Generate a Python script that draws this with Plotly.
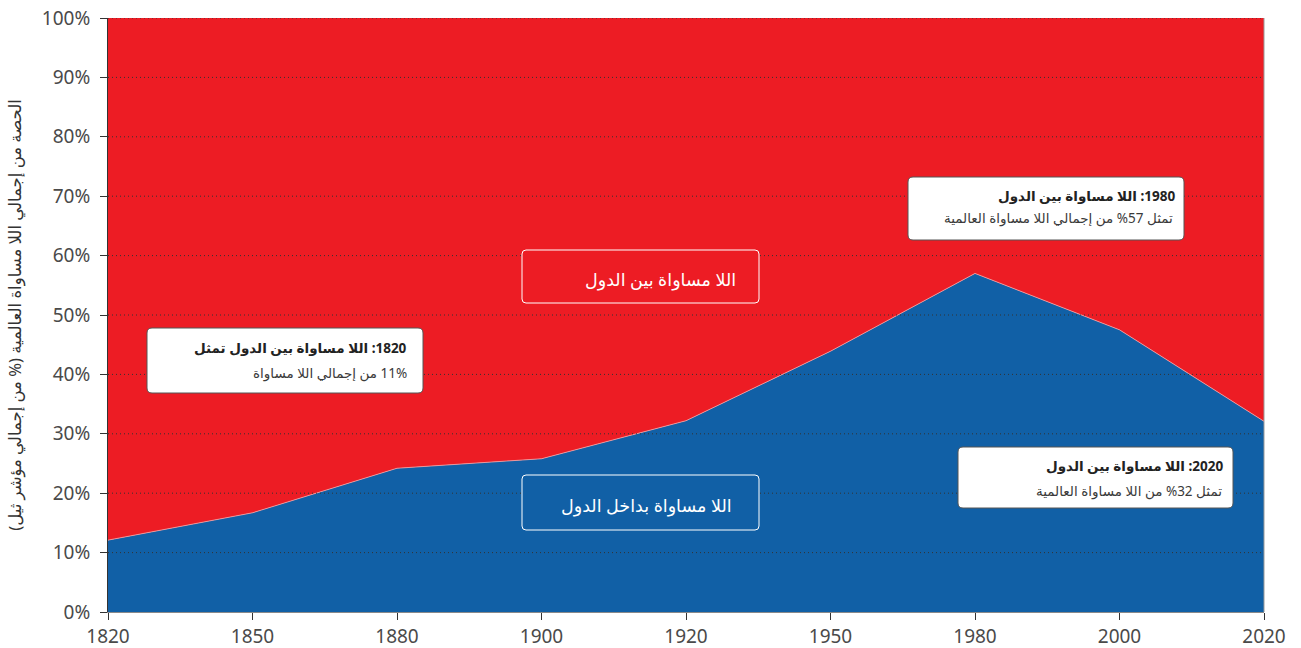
import plotly.graph_objects as go

# ---------------------------
# DATA
# ---------------------------

years = ["1820", "1850", "1880", "1900", "1920", "1950", "1980", "2000", "2020"]
within_share = [12.1, 16.7, 24.2, 25.8, 32.2, 43.9, 57.0, 47.5, 32.1]
between_share = [87.9, 83.3, 75.8, 74.2, 67.8, 56.1, 43.0, 52.5, 67.9]
y_ticks = [0, 10, 20, 30, 40, 50, 60, 70, 80, 90, 100]
y_labels = [f"{v}%" for v in y_ticks]

RED = "#ED1C24"
BLUE = "#1160A6"
FONT = "Noto Sans, DejaVu Sans, sans-serif"

RLE, PDF = "\u202b", "\u202c"


def rtl(s):
    return RLE + s + PDF


# plot area in pixels (used only to place boxes)
L, R, T, B = 108, 1264, 18, 612


def px(x):
    return (x - L) / (R - L)


def py(y):
    return (B - y) / (B - T)


def rounded_box(x0, y0, x1, y1, r=5):
    # x/y in pixels, returns an svg path in paper coords
    rx = r / (R - L)
    ry = r / (B - T)
    a, b, c, d = px(x0), py(y1), px(x1), py(y0)
    return (
        f"M {a + rx} {b} L {c - rx} {b} Q {c} {b} {c} {b + ry} "
        f"L {c} {d - ry} Q {c} {d} {c - rx} {d} "
        f"L {a + rx} {d} Q {a} {d} {a} {d - ry} "
        f"L {a} {b + ry} Q {a} {b} {a + rx} {b} Z"
    )


fig = go.Figure()

fig.add_trace(
    go.Scatter(
        x=years,
        y=within_share,
        stackgroup="one",
        mode="lines",
        line=dict(color="#f2a3a6", width=0.8),
        fillcolor=BLUE,
        name="اللا مساواة بداخل الدول",
        hoverinfo="x+y",
    )
)

fig.add_trace(
    go.Scatter(
        x=years,
        y=between_share,
        stackgroup="one",
        mode="lines",
        line=dict(width=0),
        fillcolor=RED,
        name="اللا مساواة بين الدول",
        hoverinfo="x+y",
    )
)

# ---------------------------
# GRID ABOVE THE AREAS
# ---------------------------

shapes = []

for v in y_ticks[1:]:
    shapes.append(dict(
        type="line", xref="x domain", yref="y",
        x0=0, x1=1, y0=v, y1=v,
        line=dict(color="#333333", width=1, dash="1px,3px"),
        layer="above",
    ))

for yr in years[1:-1]:
    shapes.append(dict(
        type="line", xref="x", yref="y domain",
        x0=yr, x1=yr, y0=0, y1=1,
        line=dict(color="#333333", width=1, dash="1px,3px"),
        layer="above",
    ))

# right border
shapes.append(dict(
    type="line", xref="x domain", yref="y domain",
    x0=1, x1=1, y0=0, y1=1,
    line=dict(color="#9a9a9a", width=1),
    layer="above",
))

# ---------------------------
# CALLOUT BOXES
# ---------------------------

note_boxes = [
    (147, 328, 423, 393),
    (908, 177, 1184, 240),
    (958, 447, 1233, 508),
]
for x0, y0, x1, y1 in note_boxes:
    shapes.append(dict(
        type="path", xref="paper", yref="paper",
        path=rounded_box(x0, y0, x1, y1),
        fillcolor="white",
        line=dict(color="#555555", width=1),
        layer="above",
    ))

label_boxes = [
    (522, 250, 759, 303, RED),
    (522, 475, 759, 530, BLUE),
]
for x0, y0, x1, y1, col in label_boxes:
    shapes.append(dict(
        type="path", xref="paper", yref="paper",
        path=rounded_box(x0, y0, x1, y1, r=4),
        fillcolor=col,
        line=dict(color="white", width=1),
        layer="above",
    ))

annotations = []


def note(text, x_right, y_mid, size=13.5, color="#222222"):
    annotations.append(dict(
        text=rtl(text), xref="paper", yref="paper",
        x=px(x_right), y=py(y_mid),
        xanchor="right", yanchor="middle",
        showarrow=False, align="right",
        font=dict(family=FONT, size=size, color=color),
    ))


note("<b>1820: اللا مساواة بين الدول تمثل</b>", 409, 348)
note("11% من إجمالي اللا مساواة", 409, 373, color="#3a3a3a")

note("<b>1980: اللا مساواة بين الدول</b>", 1177, 196)
note("تمثل 57% من إجمالي اللا مساواة العالمية", 1175, 218, color="#3a3a3a")

note("<b>2020: اللا مساواة بين الدول</b>", 1225, 466)
note("تمثل 32% من اللا مساواة العالمية", 1224, 491, color="#3a3a3a")

note("اللا مساواة بين الدول", 738, 279, size=17.5, color="white")
note("اللا مساواة بداخل الدول", 734, 505, size=17.5, color="white")

# ---------------------------
# LAYOUT
# ---------------------------

fig.update_layout(
    width=1301,
    height=648,
    margin=dict(l=L, r=1301 - R, t=T, b=648 - B),
    paper_bgcolor="white",
    plot_bgcolor="white",
    showlegend=False,
    shapes=shapes,
    annotations=annotations,
    font=dict(family=FONT, color="#444444"),
    xaxis=dict(
        type="category",
        range=[0, len(years) - 1],
        showgrid=False,
        showline=True,
        linecolor="#8a8a8a",
        linewidth=1,
        ticks="outside",
        ticklen=7,
        tickcolor="#333333",
        tickfont=dict(size=19, color="#4a4a4a"),
        layer="above traces",
        automargin=False,
    ),
    yaxis=dict(
        range=[0, 100],
        tickmode="array",
        tickvals=y_ticks,
        ticktext=y_labels,
        showgrid=False,
        zeroline=False,
        showline=True,
        linecolor="#333333",
        linewidth=1,
        ticks="outside",
        ticklen=7,
        tickcolor="#333333",
        tickfont=dict(size=19, color="#4a4a4a"),
        ticklabelstandoff=6,
        layer="above traces",
        automargin=False,
        title=dict(
            text=rtl("الحصة من إجمالي اللا مساواة العالمية (% من إجمالي مؤشر ثيل)"),
            font=dict(family=FONT, size=16.5, color="#333333"),
            standoff=16,
        ),
    ),
)

fig.write_html(
    "out.html",
    config={"displayModeBar": False},
    post_script="document.body.style.margin='0';document.body.style.overflow='hidden';",
)
